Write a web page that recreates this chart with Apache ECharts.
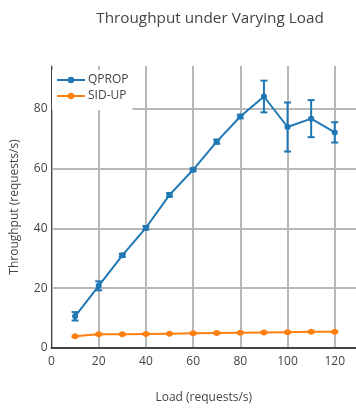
<!DOCTYPE html>
<html>
<head>
<meta charset="utf-8">
<script src="https://cdn.jsdelivr.net/npm/echarts@6/dist/echarts.min.js"></script>
<style>html,body{margin:0;padding:0;background:#fff}#c{width:356px;height:409px}</style>
</head>
<body>
<div id="c"></div>
<script>
const loads = [10, 20, 30, 40, 50, 60, 70, 80, 90, 100, 110, 120];
const qpropMean = [10.6, 20.8, 31.0, 40.2, 51.2, 59.6, 69.0, 77.4, 84.1, 73.9, 76.7, 72.1];
const qpropErr = [1.4, 1.5, 0.5, 0.6, 0.6, 0.5, 0.7, 0.6, 5.3, 8.2, 6.2, 3.4];
const sidupMean = [3.9, 4.6, 4.6, 4.7, 4.8, 4.9, 5.0, 5.1, 5.2, 5.3, 5.4, 5.4];
const sidupErr = [0.2, 0.2, 0.2, 0.2, 0.2, 0.2, 0.2, 0.2, 0.2, 0.2, 0.2, 0.2];
const xTicks = [0, 20, 40, 60, 80, 100, 120];
const yTicks = [0, 20, 40, 60, 80];

const FONT = '"Open Sans", "Noto Sans", sans-serif';
const TXT = '#444';
const GRID = '#b8b8b8';

function errData(means, errs) {
  return loads.map((x, i) => [x, means[i], means[i] - errs[i], means[i] + errs[i]]);
}
function errRender(color) {
  return function (params, api) {
    const x = api.value(0);
    const top = api.coord([x, api.value(3)]);
    const bot = api.coord([x, api.value(2)]);
    const hw = 3.5;
    const st = { stroke: color, lineWidth: 2 };
    return {
      type: 'group',
      children: [
        { type: 'line', shape: { x1: top[0], y1: top[1], x2: bot[0], y2: bot[1] }, style: st },
        { type: 'line', shape: { x1: top[0] - hw, y1: top[1], x2: top[0] + hw, y2: top[1] }, style: st },
        { type: 'line', shape: { x1: bot[0] - hw, y1: bot[1], x2: bot[0] + hw, y2: bot[1] }, style: st }
      ]
    };
  };
}

const chart = echarts.init(document.getElementById('c'), null, { renderer: 'canvas' });
chart.setOption({
  animation: false,
  backgroundColor: '#fff',
  textStyle: { fontFamily: FONT },
  title: {
    text: 'Throughput under Varying Load',
    left: 205, top: 6, textAlign: 'center',
    textStyle: { fontFamily: FONT, fontSize: 15.3, fontWeight: 'normal', color: TXT }
  },
  legend: {
    orient: 'vertical',
    left: 52, top: 70,
    backgroundColor: '#fff',
    padding: [4, 4, 8, 4],
    itemGap: 4,
    itemWidth: 28, itemHeight: 8,
    textStyle: { fontFamily: FONT, fontSize: 12, color: TXT, padding: [0, 0, 0, -2] },
    data: ['QPROP', 'SID-UP']
  },
  grid: { left: 51.5, right: 0, top: 66, bottom: 60, containLabel: false },
  xAxis: {
    type: 'value',
    min: 0, max: 129, interval: 20,
    name: 'Load (requests/s)',
    nameLocation: 'middle', nameGap: 44,
    nameTextStyle: { fontFamily: FONT, fontSize: 12, color: TXT },
    axisLine: { onZero: false, lineStyle: { color: TXT, width: 2 } },
    axisTick: { show: false, customValues: xTicks },
    axisLabel: { customValues: xTicks, margin: 8, fontFamily: FONT, fontSize: 12, color: TXT },
    splitLine: { show: true, lineStyle: { color: GRID, width: 2 } }
  },
  yAxis: {
    type: 'value',
    min: 0, max: 94.3, interval: 20,
    name: 'Throughput (requests/s)',
    nameLocation: 'middle', nameGap: 31,
    nameTextStyle: { fontFamily: FONT, fontSize: 12, color: TXT },
    axisLine: { show: true, lineStyle: { color: TXT, width: 1 } },
    axisTick: { show: false, customValues: yTicks },
    axisLabel: { customValues: yTicks, margin: 4, fontFamily: FONT, fontSize: 12, color: TXT },
    splitLine: { show: true, lineStyle: { color: GRID, width: 2 } }
  },
  series: [
    {
      name: 'QPROP-err', type: 'custom', z: 2,
      renderItem: errRender('#1f77b4'),
      encode: { x: 0, y: [1, 2, 3] },
      data: errData(qpropMean, qpropErr),
      silent: true
    },
    {
      name: 'SID-UP-err', type: 'custom', z: 2,
      renderItem: errRender('#ff7f0e'),
      encode: { x: 0, y: [1, 2, 3] },
      data: errData(sidupMean, sidupErr),
      silent: true
    },
    {
      name: 'QPROP', type: 'line', z: 3,
      data: loads.map((x, i) => [x, qpropMean[i]]),
      color: '#1f77b4',
      symbol: 'circle', symbolSize: 6,
      lineStyle: { width: 2 },
      itemStyle: { color: '#1f77b4' }
    },
    {
      name: 'SID-UP', type: 'line', z: 3,
      data: loads.map((x, i) => [x, sidupMean[i]]),
      color: '#ff7f0e',
      symbol: 'circle', symbolSize: 6,
      lineStyle: { width: 2 },
      itemStyle: { color: '#ff7f0e' }
    }
  ]
});
</script>
</body>
</html>
